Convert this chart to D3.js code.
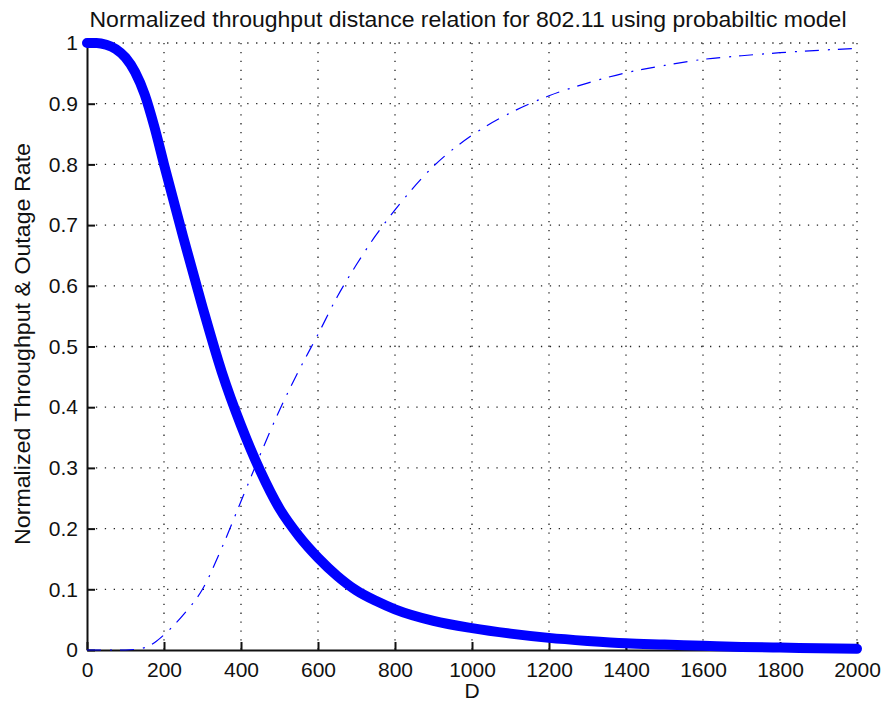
<!DOCTYPE html>
<html>
<head>
<meta charset="utf-8">
<script src="https://cdn.jsdelivr.net/npm/d3@7"></script>
<style>
  body { margin: 0; background: #fff; }
  text { font-family: "Liberation Sans", Arial, sans-serif; fill: #111; }
</style>
</head>
<body>
<div id="chart"></div>
<script>
// values
const distance = [0, 25, 50, 75, 100, 125, 150, 175, 200, 250, 300, 350, 400, 450, 500, 550, 600, 650, 700, 750, 800,
    900, 1000, 1100, 1200, 1300, 1400, 1500, 1600, 1700, 1800, 1900, 2000];
const throughput = [1, 1, 0.997, 0.99, 0.976, 0.952, 0.915, 0.862, 0.8, 0.68, 0.565, 0.458, 0.37, 0.295, 0.233, 0.188,
    0.152, 0.122, 0.098, 0.081, 0.067, 0.048, 0.036, 0.027, 0.02, 0.015, 0.011, 0.009, 0.007, 0.005, 0.004, 0.003, 0.002];
const outage = [0, 0, 0, 0, 0, 0.001, 0.004, 0.012, 0.025, 0.058, 0.1, 0.168, 0.245, 0.322, 0.395, 0.46, 0.52, 0.582,
    0.635, 0.683, 0.725, 0.797, 0.848, 0.885, 0.913, 0.934, 0.951, 0.963, 0.973, 0.979, 0.984, 0.988, 0.991];
const xTicks = [0, 200, 400, 600, 800, 1000, 1200, 1400, 1600, 1800, 2000];
const yTicks = [0, 0.1, 0.2, 0.3, 0.4, 0.5, 0.6, 0.7, 0.8, 0.9, 1];
const titleText = "Normalized throughput distance relation for 802.11 using probabiltic model";
const xLabel = "D";
const yLabel = "Normalized Throughput & Outage Rate";

// set the dimensions and margins of the graph
const margin = {top: 43, right: 26, bottom: 61, left: 87},
    width = 883 - margin.left - margin.right,
    height = 711 - margin.top - margin.bottom;

let svg = d3.select("#chart")
    .append("svg")
    .attr("width", 883)
    .attr("height", 711);

let g = svg.append("g")
    .attr("transform", "translate(" + margin.left + "," + margin.top + ")");

const x = d3.scaleLinear().domain([0, 2000]).range([0, width]);
const y = d3.scaleLinear().domain([0, 1]).range([height, 0]);

// dotted grid
g.append("g").selectAll("line.vgrid")
    .data(xTicks.slice(1))
    .join("line")
    .attr("x1", d => x(d)).attr("x2", d => x(d))
    .attr("y1", 0).attr("y2", height)
    .attr("stroke", "#222")
    .attr("stroke-width", 1.3)
    .attr("stroke-dasharray", "1.3,7.6");

g.append("g").selectAll("line.hgrid")
    .data(yTicks.slice(1))
    .join("line")
    .attr("x1", 0).attr("x2", width)
    .attr("y1", d => y(d)).attr("y2", d => y(d))
    .attr("stroke", "#222")
    .attr("stroke-width", 1.3)
    .attr("stroke-dasharray", "1.3,7.6");

// axes, ticks pointing inward
let xAxis = g.append("g")
    .attr("transform", "translate(0," + height + ")")
    .call(d3.axisBottom(x).tickValues(xTicks).tickSizeInner(-8).tickSizeOuter(0).tickPadding(12).tickFormat(d3.format("d")));
let yAxis = g.append("g")
    .call(d3.axisLeft(y).tickValues(yTicks).tickSizeInner(-8).tickSizeOuter(0).tickPadding(9).tickFormat(d => d === 0 || d === 1 ? d : d3.format(".1f")(d)));

[xAxis, yAxis].forEach(a => {
    a.select(".domain").attr("stroke", "#111").attr("stroke-width", 2);
    a.selectAll(".tick line").attr("stroke", "#111").attr("stroke-width", 2);
    a.selectAll(".tick text").style("font-size", "21px").attr("fill", "#111");
});
xAxis.selectAll(".tick text").attr("dy", "0.71em");

// curves
const line = (vals) => d3.line()
    .x((d, i) => x(distance[i]))
    .y(d => y(d))
    .curve(d3.curveMonotoneX)(vals);

g.append("path")
    .attr("d", line(outage))
    .attr("fill", "none")
    .attr("stroke", "#0000ff")
    .attr("stroke-width", 1.2)
    .attr("stroke-dasharray", "14,9,2,8");

g.append("path")
    .attr("d", line(throughput))
    .attr("fill", "none")
    .attr("stroke", "#0000ff")
    .attr("stroke-width", 10)
    .attr("stroke-linecap", "round")
    .attr("stroke-linejoin", "round");

// title and labels
svg.append("text")
    .attr("x", 468)
    .attr("y", 27)
    .attr("text-anchor", "middle")
    .attr("textLength", 757)
    .attr("lengthAdjust", "spacingAndGlyphs")
    .style("font-size", "22px")
    .text(titleText);

svg.append("text")
    .attr("x", margin.left + width / 2)
    .attr("y", 698)
    .attr("text-anchor", "middle")
    .style("font-size", "21px")
    .text(xLabel);

svg.append("text")
    .attr("transform", "translate(30,344) rotate(-90)")
    .attr("text-anchor", "middle")
    .attr("textLength", 402)
    .attr("lengthAdjust", "spacingAndGlyphs")
    .style("font-size", "22px")
    .text(yLabel);
</script>
</body>
</html>
